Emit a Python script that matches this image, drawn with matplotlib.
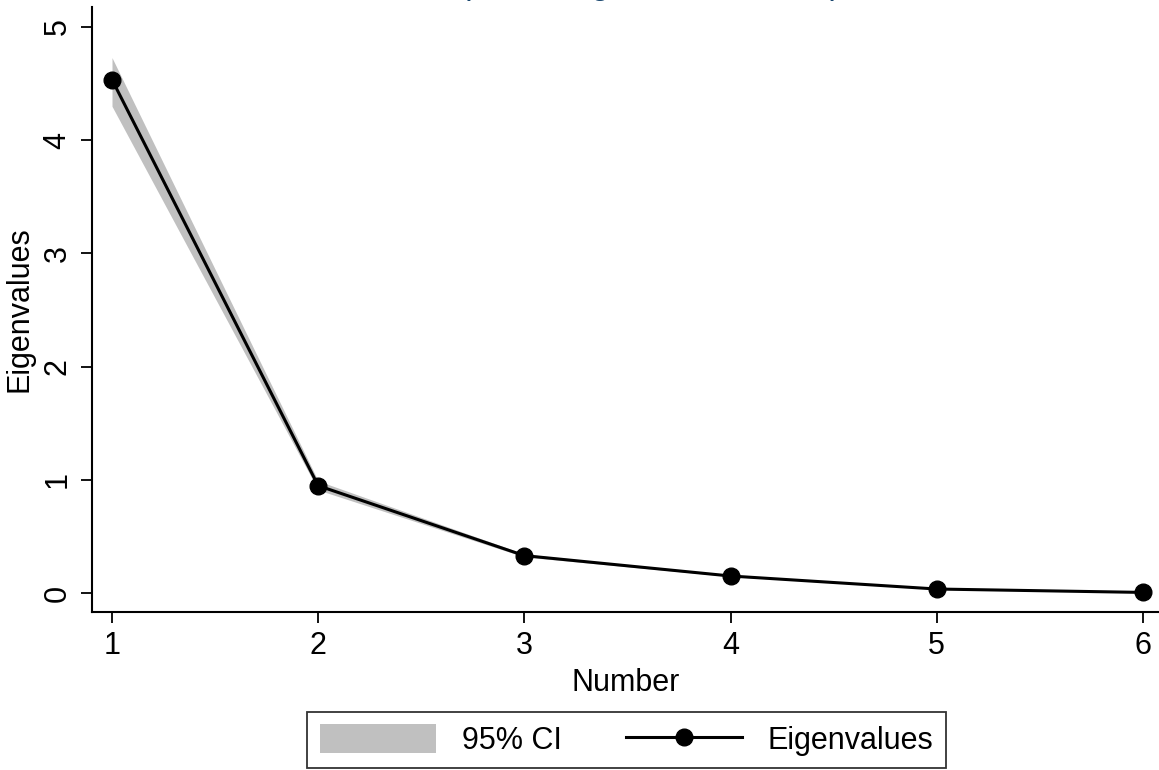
import matplotlib
matplotlib.use("Agg")
import matplotlib.pyplot as plt
from matplotlib.patches import Patch
from matplotlib.lines import Line2D

plt.rcParams['font.family'] = ['Liberation Sans', 'DejaVu Sans']

number = [1, 2, 3, 4, 5, 6]
eigenvalues = [4.535, 0.948, 0.330, 0.150, 0.035, 0.005]
ci_lower = [4.30, 0.910, 0.318, 0.145, 0.034, 0.005]
ci_upper = [4.73, 0.990, 0.344, 0.156, 0.037, 0.005]
x_ticks = [1, 2, 3, 4, 5, 6]
y_ticks = [0, 1, 2, 3, 4, 5]

W, H = 1159, 770
FS = 22
fig = plt.figure(figsize=(W / 100, H / 100), dpi=100)
ax = fig.add_axes([92 / W, 1 - 612 / H, 1 - 92 / W, (612 - 7) / H])

ax.fill_between(number, ci_lower, ci_upper, color='#c0c0c0', linewidth=0, zorder=1)
ax.plot(number, eigenvalues, color='black', linewidth=2.2, marker='o',
        markersize=12, markerfacecolor='black', markeredgecolor='black', zorder=3)

ax.set_xlim(0.903, 6.078)
ax.set_ylim(-0.168, 5.177)
ax.set_xticks(x_ticks)
ax.set_yticks(y_ticks)
ax.set_xticklabels([str(t) for t in x_ticks], fontsize=FS)
ax.set_yticklabels([str(t) for t in y_ticks], fontsize=FS, rotation=90, va='center')
ax.tick_params(axis='both', direction='out', length=8, width=1.3, colors='black', pad=6)
for s in ['top', 'right']:
    ax.spines[s].set_visible(False)
for s in ['left', 'bottom']:
    ax.spines[s].set_linewidth(1.5)

ax.set_xlabel('Number', fontsize=FS, labelpad=5)
ax.set_ylabel('Eigenvalues', fontsize=FS, labelpad=6)

fig.text(0.5 + 46 / W, 1 + 5.7 / H, 'Scree plot of eigenvalues after pca',
         ha='center', va='baseline', fontsize=24, color='#1a476f')

handles = [Patch(facecolor='#c0c0c0', edgecolor='none', label='95% CI'),
           Line2D([0], [0], color='black', linewidth=2.2, marker='o', markersize=12,
                  label='Eigenvalues')]
leg = fig.legend(handles=handles, loc='center', bbox_to_anchor=(626.5 / W, 1 - 740 / H),
                 ncol=2, fontsize=FS, frameon=True, fancybox=False, edgecolor='black',
                 handlelength=3.8, handleheight=1.1, columnspacing=2.1, handletextpad=0.85,
                 borderpad=0.4)
leg.get_frame().set_linewidth(1.3)

fig.savefig('out.png', dpi=100, facecolor='white')
